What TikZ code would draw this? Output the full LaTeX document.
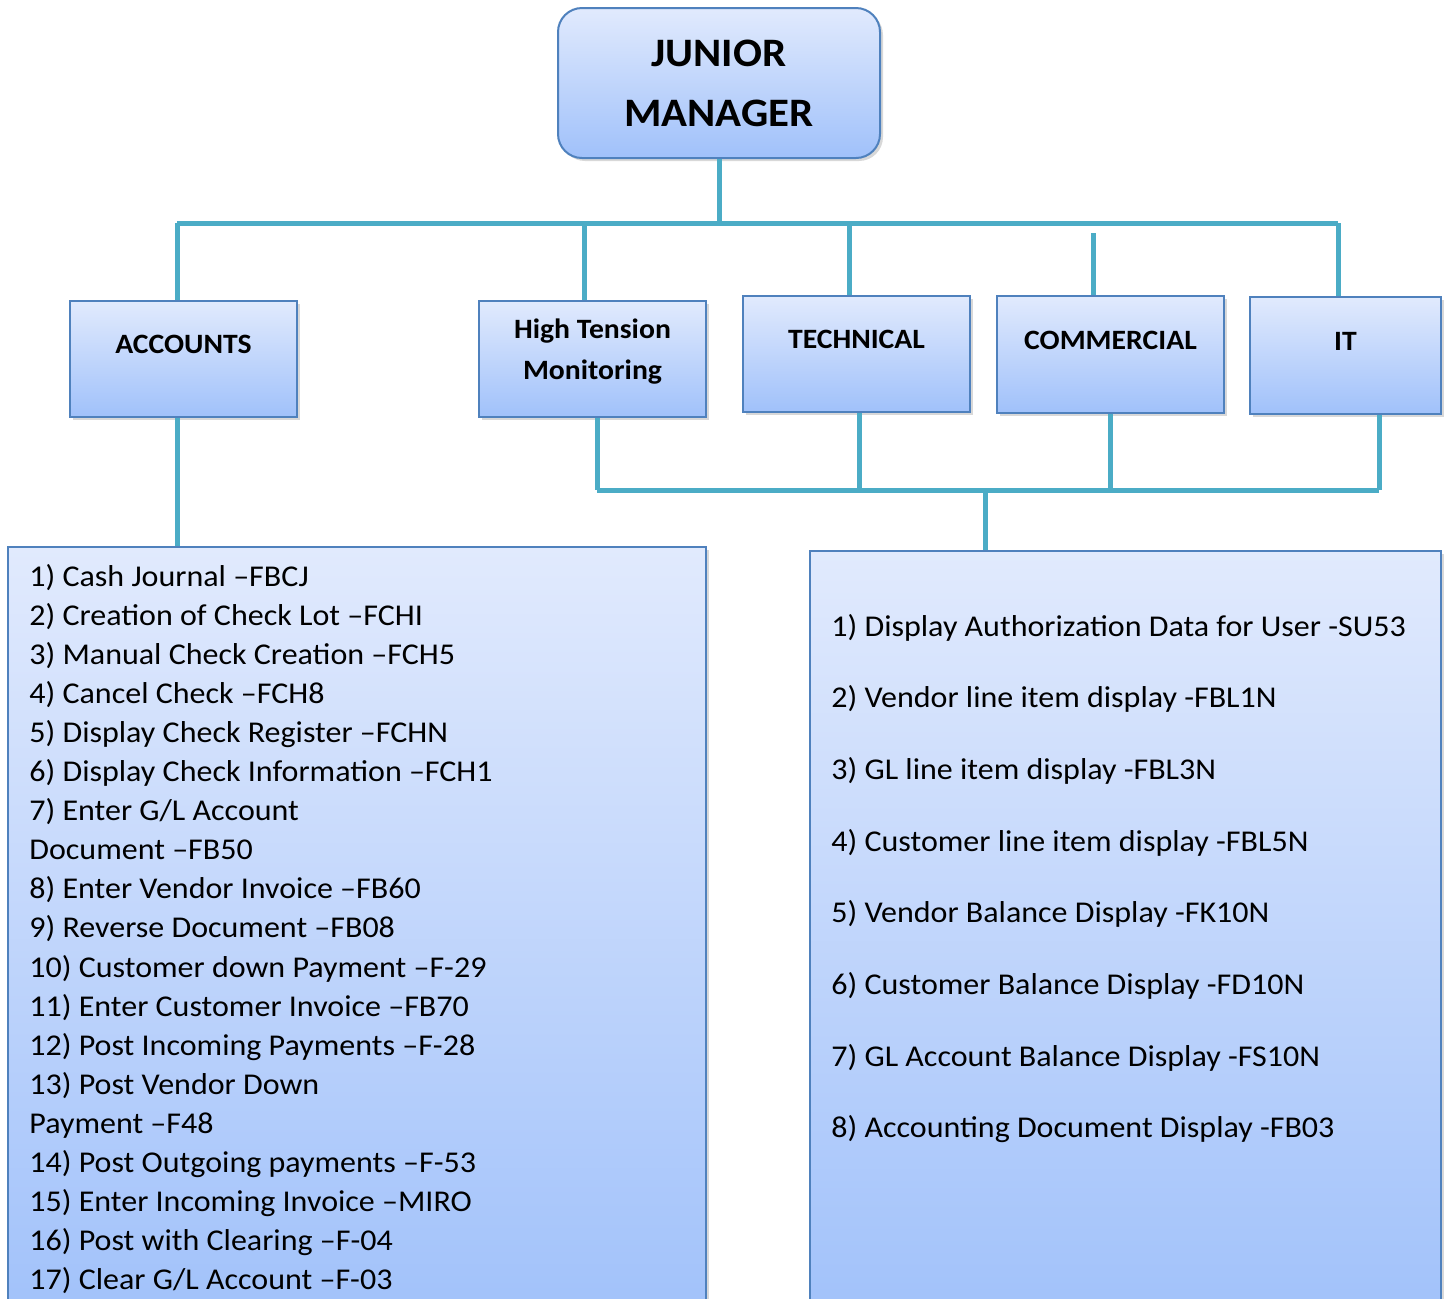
\documentclass[tikz,border=0pt]{standalone}
\usepackage{fontspec}
\setmainfont{Carlito}[FakeStretch=1.06]
\usetikzlibrary{shadows}
\definecolor{boxtop}{RGB}{225,234,253}
\definecolor{boxbot}{RGB}{160,193,250}
\definecolor{boxline}{RGB}{79,129,189}
\definecolor{conn}{RGB}{75,172,198}
\tikzset{
  unitbox/.style={draw=boxline, line width=1pt, top color=boxtop, bottom color=boxbot,
    drop shadow={shadow xshift=1.5pt, shadow yshift=-1.5pt, opacity=0.3}, inner sep=0pt},
  lbl/.style={font=\bfseries\fontsize{14}{20.5}\selectfont, align=center, inner sep=0pt},
  item/.style={font=\fontsize{15.1}{18}\selectfont, anchor=base west, inner sep=0pt},
  wire/.style={draw=conn, line width=2.5pt}
}
\begin{document}
\begin{tikzpicture}[x=0.5pt,y=-0.5pt]
\useasboundingbox (0,0) rectangle (1445,1298);
\clip (0,0) rectangle (1445,1298);
\fill[white] (0,0) rectangle (1445,1298);

% boxes
\node[unitbox, rounded corners=12pt, minimum width=161pt, minimum height=75pt,
      font=\bfseries\fontsize{20.2}{30}\selectfont, align=center] (mgr) at (719,83) {JUNIOR\\MANAGER};
\node[unitbox, minimum width=113.5pt, minimum height=58pt] (acc) at (183.5,359) {};
\node[unitbox, minimum width=113.5pt, minimum height=58pt] (htm) at (592.5,359) {};
\node[unitbox, minimum width=113.5pt, minimum height=58pt] (tech) at (856.5,354) {};
\node[unitbox, minimum width=113.5pt, minimum height=58.5pt] (comm) at (1110.5,354.5) {};
\node[unitbox, minimum width=95.5pt, minimum height=58.5pt] (it) at (1345.5,355.5) {};
\node[unitbox, minimum width=349pt, minimum height=391.5pt] (leftlist) at (357,938.5) {};
\node[unitbox, minimum width=315.5pt, minimum height=389.5pt] (rightlist) at (1125.5,940.5) {};

% labels
\node[lbl] (accl) at (183.5,344) {ACCOUNTS};
\node[lbl] (html) at (592.5,352) {High Tension\\Monitoring};
\node[lbl] (techl) at (856.5,339) {TECHNICAL};
\node[lbl] (comml) at (1110.5,340) {COMMERCIAL};
\node[lbl] (itl) at (1345.5,341) {IT};

% top bus
\coordinate (busM) at (720,223);
\coordinate (jA) at (177,223);
\coordinate (jH) at (584,223);
\coordinate (jT) at (849,223);
\coordinate (jC) at (1093,233);
\coordinate (jI) at (1338,223);
\draw[wire] (mgr.south) -- (mgr.south |- busM);
\draw[wire] (jA) -- (jI);
\draw[wire] (jA) -- (jA |- acc.north);
\draw[wire] (jH) -- (jH |- htm.north);
\draw[wire] (jT) -- (jT |- tech.north);
\draw[wire] (jC) -- (jC |- comm.north);
\draw[wire] (jI) -- (jI |- it.north);

% accounts to list
\draw[wire] (acc.south -| jA) -- (jA |- leftlist.north);

% bottom bus
\coordinate (bH) at (597,490);
\coordinate (bT) at (859,490);
\coordinate (bC) at (1110,490);
\coordinate (bI) at (1379,490);
\coordinate (bM) at (985,490);
\draw[wire] (bH |- htm.south) -- (bH);
\draw[wire] (bT |- tech.south) -- (bT);
\draw[wire] (bC |- comm.south) -- (bC);
\draw[wire] (bI |- it.south) -- (bI);
\draw[wire] (bH) -- (bI);
\draw[wire] (bM) -- (bM |- rightlist.north);

% left list
\foreach \t [count=\i] in {
  1) Cash Journal –FBCJ,
  2) Creation of Check Lot –FCHI,
  3) Manual Check Creation –FCH5,
  4) Cancel Check –FCH8,
  5) Display Check Register –FCHN,
  6) Display Check Information –FCH1,
  7) Enter G/L Account,
  Document –FB50,
  8) Enter Vendor Invoice –FB60,
  9) Reverse Document –FB08,
  10) Customer down Payment –F-29,
  11) Enter Customer Invoice –FB70,
  12) Post Incoming Payments –F-28,
  13) Post Vendor Down,
  Payment –F48,
  14) Post Outgoing payments –F-53,
  15) Enter Incoming Invoice –MIRO,
  16) Post with Clearing –F-04,
  17) Clear G/L Account –F-03}
  \node[item] (L\i) at (29,{586+39.1*(\i-1)}) {\t};

% right list
\foreach \t [count=\i] in {
  1) Display Authorization Data for User -SU53,
  2) Vendor line item display -FBL1N,
  3) GL line item display -FBL3N,
  4) Customer line item display -FBL5N,
  5) Vendor Balance Display -FK10N,
  6) Customer Balance Display -FD10N,
  7) GL Account Balance Display -FS10N,
  8) Accounting Document Display -FB03}
  \node[item] (R\i) at (831,{636+71.7*(\i-1)}) {\t};
\end{tikzpicture}
\end{document}
